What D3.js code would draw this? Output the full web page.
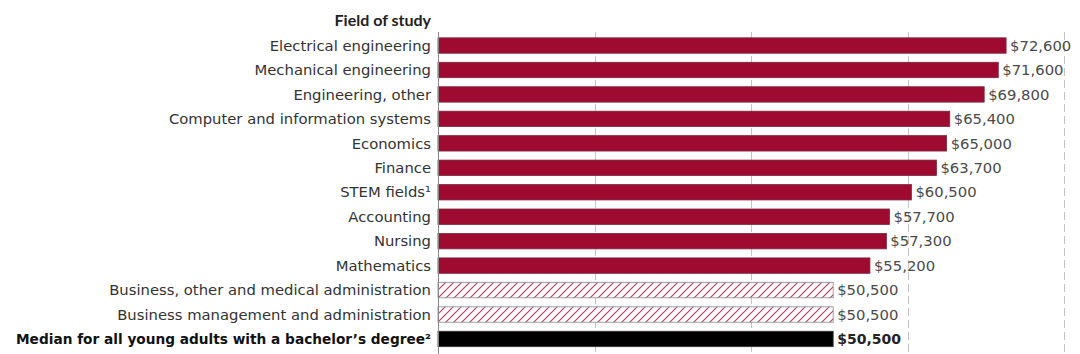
<!DOCTYPE html>
<html>
<head>
<meta charset="utf-8">
<script src="https://cdn.jsdelivr.net/npm/d3@7"></script>
<style>
  body { margin: 0; background: #fff; }
  text { font-family: "DejaVu Sans", sans-serif; }
</style>
</head>
<body>
<div id="chart"></div>
<script>
// data
const fields = [
  "Electrical engineering",
  "Mechanical engineering",
  "Engineering, other",
  "Computer and information systems",
  "Economics",
  "Finance",
  "STEM fields\u00b9",
  "Accounting",
  "Nursing",
  "Mathematics",
  "Business, other and medical administration",
  "Business management and administration",
  "Median for all young adults with a bachelor\u2019s degree\u00b2"
];
const earnings = [72600, 71600, 69800, 65400, 65000, 63700, 60500, 57700, 57300, 55200, 50500, 50500, 50500];
const barType = ["solid", "solid", "solid", "solid", "solid", "solid", "solid", "solid", "solid", "solid", "hatch", "hatch", "median"];
const gridTicks = [20000, 40000, 60000, 80000];

const W = 1080, H = 354;
const left = 438, right = 1064;

const svg = d3.select("#chart").append("svg")
    .attr("width", W)
    .attr("height", H);

// hatch pattern
const defs = svg.append("defs");
const pat = defs.append("pattern")
    .attr("id", "hatch")
    .attr("patternUnits", "userSpaceOnUse")
    .attr("width", 8)
    .attr("height", 8);
pat.append("rect").attr("width", 8).attr("height", 8).attr("fill", "#fff");
pat.append("path")
    .attr("d", "M-2,2 l4,-4 M0,8 l8,-8 M6,10 l4,-4")
    .attr("stroke", "#c23a5a")
    .attr("stroke-width", 1.1);

const x = d3.scaleLinear().domain([0, 80000]).range([left, right]);
const y = d3.scaleBand()
    .domain(fields)
    .range([33.3, 351.2])
    .paddingInner(0.37)
    .paddingOuter(0.185);

// grid lines
svg.append("g")
    .selectAll("line")
    .data(gridTicks)
    .enter()
    .append("line")
      .attr("x1", d => Math.round(x(d)) + 0.5)
      .attr("x2", d => Math.round(x(d)) + 0.5)
      .attr("y1", 32)
      .attr("y2", H)
      .attr("stroke", "#c4c4c4")
      .attr("stroke-width", 1)
      .attr("stroke-dasharray", "8,4");

// bars
const fillFor = t => t === "solid" ? "#9e0a30" : (t === "hatch" ? "url(#hatch)" : "#000");
const strokeFor = t => t === "solid" ? "#7a2a3e" : (t === "hatch" ? "#8a8a8a" : "#333");

svg.append("g")
    .selectAll("rect")
    .data(fields)
    .enter()
    .append("rect")
      .attr("x", x(0))
      .attr("y", d => y(d))
      .attr("width", (d, i) => x(earnings[i]) - x(0))
      .attr("height", y.bandwidth())
      .attr("fill", (d, i) => fillFor(barType[i]))
      .attr("stroke", (d, i) => strokeFor(barType[i]))
      .attr("stroke-width", 0.8);

// axis line
svg.append("line")
    .attr("x1", left + 0.5).attr("x2", left + 0.5)
    .attr("y1", 32).attr("y2", H)
    .attr("stroke", "#888");

// category labels
svg.append("g")
    .selectAll("text")
    .data(fields)
    .enter()
    .append("text")
      .attr("x", 431)
      .attr("y", d => y(d) + y.bandwidth() / 2)
      .attr("dy", "0.35em")
      .attr("text-anchor", "end")
      .style("font-size", (d, i) => barType[i] === "median" ? "13.7px" : "14.8px")
      .style("font-weight", (d, i) => barType[i] === "median" ? "bold" : "normal")
      .style("fill", (d, i) => barType[i] === "median" ? "#111" : "#333")
      .text(d => d);

// value labels
svg.append("g")
    .selectAll("text")
    .data(fields)
    .enter()
    .append("text")
      .attr("x", (d, i) => x(earnings[i]) + 4)
      .attr("y", d => y(d) + y.bandwidth() / 2)
      .attr("dy", "0.35em")
      .style("font-size", (d, i) => barType[i] === "median" ? "14px" : "14.8px")
      .style("font-weight", (d, i) => barType[i] === "median" ? "bold" : "normal")
      .style("fill", (d, i) => barType[i] === "median" ? "#222" : "#4a4a4a")
      .text((d, i) => "$" + d3.format(",")(earnings[i]));

// title
svg.append("text")
    .attr("x", 431)
    .attr("y", 20)
    .attr("dy", "0.35em")
    .attr("text-anchor", "end")
    .style("font-family", "Lato, sans-serif")
    .style("font-size", "16px")
    .style("font-weight", "bold")
    .style("fill", "#222")
    .text("Field of study");
</script>
</body>
</html>
